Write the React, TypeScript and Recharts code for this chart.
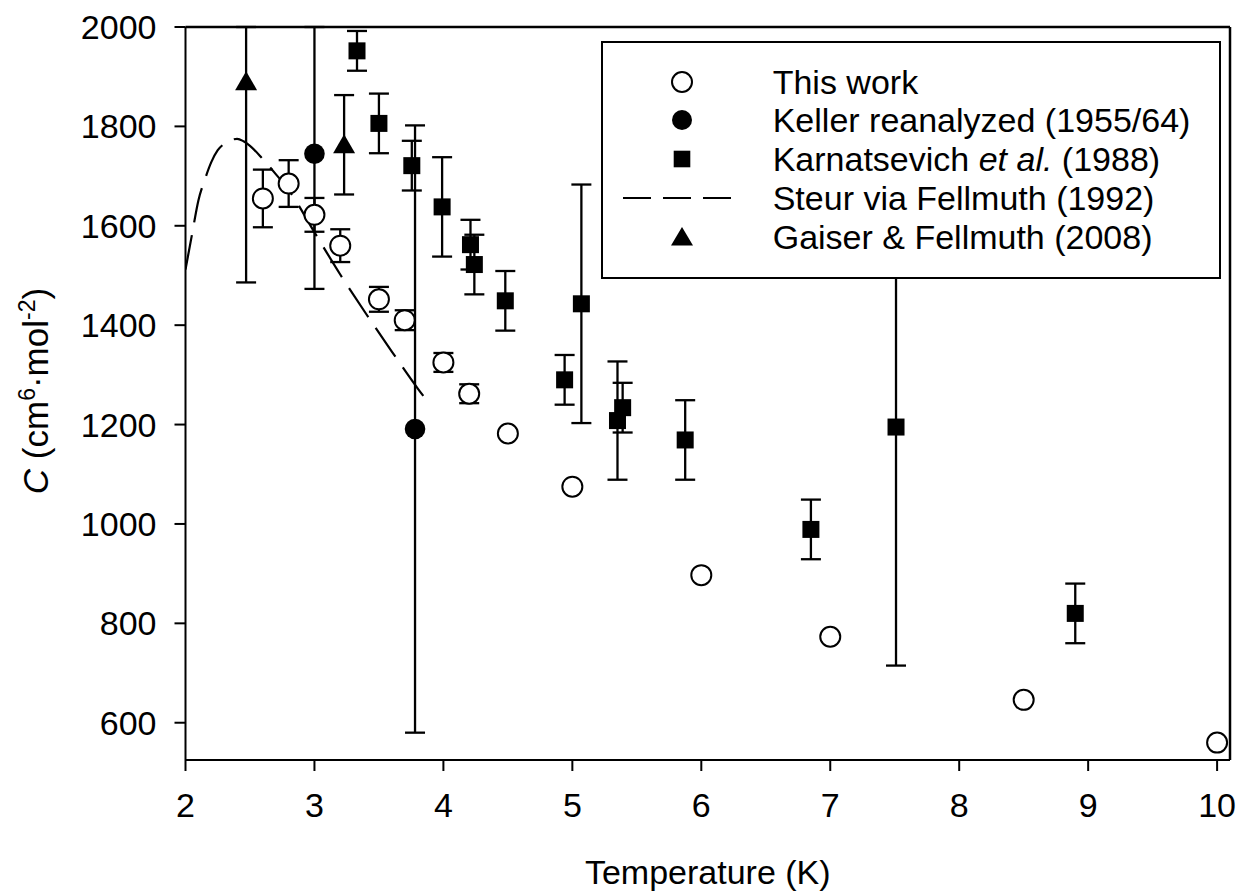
import React from "react"
import {
  ComposedChart,
  Scatter,
  Line,
  XAxis,
  YAxis,
  ErrorBar,
  Legend,
  ReferenceLine,
} from "recharts"

// temperatures in K, C in cm^6·mol^-2; error bars as [below, above] lengths
// (bars that run off the top of the plot are read only up to the frame)
const thisWorkT = [2.6, 2.8, 3.0, 3.2, 3.5, 3.7, 4.0, 4.2, 4.5, 5.0, 6.0, 7.0, 8.5, 10.0]
const thisWorkC = [1655, 1685, 1622, 1560, 1452, 1410, 1325, 1262, 1182, 1075, 897, 773, 646, 560]
const thisWorkErrLow = [58, 47, 34, 33, 25, 20, 19, 19, 0, 0, 0, 0, 0, 0]
const thisWorkErrHigh = [58, 47, 34, 33, 25, 20, 19, 19, 0, 0, 0, 0, 0, 0]

const kellerT = [3.0, 3.78]
const kellerC = [1745, 1191]
const kellerErrLow = [272, 611]
const kellerErrHigh = [255, 611]

const karnT = [3.33, 3.5, 3.755, 3.99, 4.21, 4.24, 4.48, 4.94, 5.07, 5.35, 5.39, 5.875, 6.85, 7.51, 8.9]
const karnC = [1952, 1806, 1721, 1638, 1562, 1522, 1449, 1290, 1443, 1208, 1234, 1169, 989, 1195, 820]
const karnErrLow = [40, 60, 50, 100, 50, 60, 60, 50, 240, 119, 50, 80, 60, 480, 60]
const karnErrHigh = [40, 60, 50, 100, 50, 60, 60, 50, 240, 119, 50, 80, 60, 480, 60]

const gaiserT = [2.47, 3.23]
const gaiserC = [1890, 1763]
const gaiserErrLow = [404, 100]
const gaiserErrHigh = [110, 100]

const steurT = [2.0, 2.05, 2.1, 2.15, 2.2, 2.25, 2.3, 2.35, 2.4, 2.45, 2.5, 2.6, 2.7, 2.8, 3.0, 3.2, 3.4, 3.6, 3.8, 3.9]
const steurC = [1512, 1582, 1651, 1693, 1728, 1752, 1765, 1772, 1775, 1770, 1761, 1734, 1704, 1672, 1587, 1502, 1423, 1347, 1273, 1239]

const xDomain = [2, 10.1]
const yDomain = [525, 2000]
const xTicks = [2, 3, 4, 5, 6, 7, 8, 9, 10]
const yTicks = [600, 800, 1000, 1200, 1400, 1600, 1800, 2000]

const legendLabels = [
  "This work",
  "Keller reanalyzed (1955/64)",
  "Karnatsevich",
  "Steur via Fellmuth (1992)",
  "Gaiser & Fellmuth (2008)",
]

const toPoints = (t: number[], c: number[], lo?: number[], hi?: number[]) =>
  t.map((x, i) => ({
    x,
    c: c[i],
    err: lo && hi && (lo[i] || hi[i]) ? [lo[i], hi[i]] : null,
  }))

const thisWork = toPoints(thisWorkT, thisWorkC, thisWorkErrLow, thisWorkErrHigh)
const keller = toPoints(kellerT, kellerC, kellerErrLow, kellerErrHigh)
const karn = toPoints(karnT, karnC, karnErrLow, karnErrHigh)
const gaiser = toPoints(gaiserT, gaiserC, gaiserErrLow, gaiserErrHigh)
const steur = toPoints(steurT, steurC)

const FONT = "'Liberation Sans', Arial, sans-serif"

const OpenCircle = (p: any) => (
  <circle cx={p.cx} cy={p.cy} r={10} fill="#fff" stroke="#000" strokeWidth={2} />
)
const FilledCircle = (p: any) => <circle cx={p.cx} cy={p.cy} r={10.3} fill="#000" />
const Square = (p: any) => (
  <rect x={p.cx - 8.5} y={p.cy - 8.5} width={17} height={17} fill="#000" />
)
const Triangle = (p: any) => (
  <polygon
    points={`${p.cx},${p.cy - 10.5} ${p.cx + 11},${p.cy + 8.5} ${p.cx - 11},${p.cy + 8.5}`}
    fill="#000"
  />
)

function LegendBox() {
  const rows = [40.7, 79, 118.3, 157.3, 195.7]
  const sym = (i: number) => {
    const c = 20
    if (i === 0) return <circle cx={c} cy={c} r={10} fill="#fff" stroke="#000" strokeWidth={2} />
    if (i === 1) return <circle cx={c} cy={c} r={10} fill="#000" />
    if (i === 2) return <rect x={c - 8.3} y={c - 8.3} width={16.6} height={16.6} fill="#000" />
    if (i === 4)
      return <polygon points={`${c},${c - 10} ${c + 11},${c + 8.5} ${c - 11},${c + 8.5}`} fill="#000" />
    return null
  }
  return (
    <div
      style={{
        position: "relative",
        width: 620,
        height: 238,
        boxSizing: "border-box",
        border: "2px solid #000",
        background: "#fff",
        fontFamily: FONT,
        fontSize: 34,
        color: "#000",
      }}
    >
      {rows.map((y, i) => (
        <React.Fragment key={i}>
          {i === 3 ? (
            <svg
              style={{ position: "absolute", left: 18, top: y - 2 - 20 }}
              width={112}
              height={40}
            >
              <line x1={2} y1={20} x2={110} y2={20} stroke="#000" strokeWidth={2} strokeDasharray="28 12" />
            </svg>
          ) : (
            <svg
              style={{ position: "absolute", left: 80.7 - 2 - 20, top: y - 2 - 20 }}
              width={40}
              height={40}
            >
              {sym(i)}
            </svg>
          )}
          <div
            style={{
              position: "absolute",
              left: 169.7,
              top: y - 2 - 17,
              height: 34,
              lineHeight: "34px",
              whiteSpace: "nowrap",
            }}
          >
            {i === 2 ? (
              <>
                Karnatsevich <i>et al.</i> (1988)
              </>
            ) : (
              legendLabels[i]
            )}
          </div>
        </React.Fragment>
      ))}
    </div>
  )
}

const YLabel = () => (
  <text
    x={48}
    y={391}
    transform="rotate(-90, 48, 391)"
    textAnchor="middle"
    fill="#000"
    fontSize={35}
    fontFamily={FONT}
  >
    <tspan fontStyle="italic">C</tspan>
    <tspan> (cm</tspan>
    <tspan fontSize={23} dy={-13}>6</tspan>
    <tspan dy={13}>·mol</tspan>
    <tspan fontSize={23} dy={-13}>-2</tspan>
    <tspan dy={13}>)</tspan>
  </text>
)

export default function App() {
  return (
    <div style={{ position: "absolute", left: 0, top: 0, background: "#fff", fontFamily: FONT }}>
      <ComposedChart width={1241} height={892} margin={{ top: 27, right: 11, bottom: 0, left: 0 }}>
        <XAxis
          type="number"
          dataKey="x"
          domain={xDomain}
          ticks={xTicks}
          allowDataOverflow
          height={132}
          tickSize={11}
          tickMargin={22}
          stroke="#000"
          strokeWidth={2}
          tick={{ fill: "#000", fontSize: 34, fontFamily: FONT }}
          label={{
            value: "Temperature (K)",
            position: "insideBottom",
            offset: 8,
            fill: "#000",
            fontSize: 34,
            fontFamily: FONT,
          }}
        />
        <YAxis
          type="number"
          dataKey="c"
          domain={yDomain}
          ticks={yTicks}
          allowDataOverflow
          width={185.5}
          tickSize={11}
          tickMargin={18}
          stroke="#000"
          strokeWidth={2}
          tick={{ fill: "#000", fontSize: 34, fontFamily: FONT }}
          label={{ content: () => <YLabel /> }}
        />
        <Scatter name="This work" data={thisWork} dataKey="c" shape={OpenCircle} isAnimationActive={false}>
          <ErrorBar dataKey="err" direction="y" width={10} stroke="#000" strokeWidth={2.3} />
        </Scatter>
        <Scatter name="Keller" data={keller} dataKey="c" shape={FilledCircle} isAnimationActive={false}>
          <ErrorBar dataKey="err" direction="y" width={10} stroke="#000" strokeWidth={2.3} />
        </Scatter>
        <Scatter name="Karnatsevich" data={karn} dataKey="c" shape={Square} isAnimationActive={false}>
          <ErrorBar dataKey="err" direction="y" width={10} stroke="#000" strokeWidth={2.3} />
        </Scatter>
        <Scatter name="Gaiser" data={gaiser} dataKey="c" shape={Triangle} isAnimationActive={false}>
          <ErrorBar dataKey="err" direction="y" width={10} stroke="#000" strokeWidth={2.3} />
        </Scatter>
        <Line
          data={steur}
          dataKey="c"
          type="monotone"
          stroke="#000"
          strokeWidth={2.2}
          strokeDasharray="35 13"
          dot={false}
          activeDot={false}
          isAnimationActive={false}
        />
        {/* frame: top and right edges */}
        <ReferenceLine y={yDomain[1]} stroke="#000" strokeWidth={2.5} />
        <ReferenceLine x={xDomain[1]} stroke="#000" strokeWidth={2.5} />
        <Legend
          layout="vertical"
          align="center"
          verticalAlign="middle"
          content={() => <LegendBox />}
          wrapperStyle={{ position: "absolute", left: 601, top: 41, width: 620, height: 238 }}
        />
      </ComposedChart>
    </div>
  )
}
